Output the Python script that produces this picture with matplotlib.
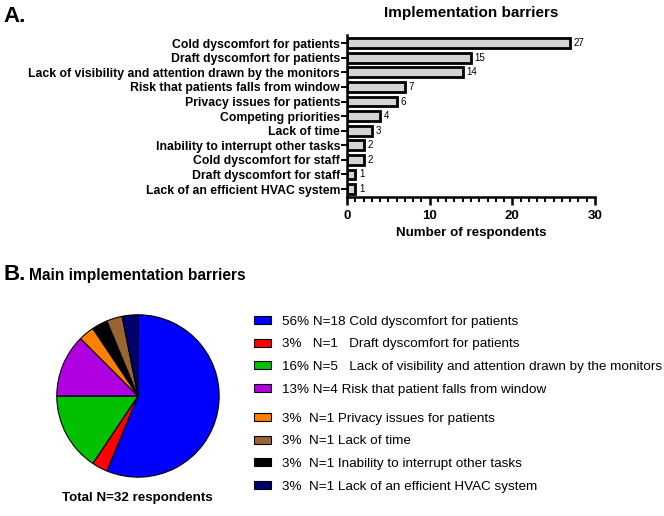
import numpy as np
import matplotlib
matplotlib.use('Agg')
import matplotlib.pyplot as plt

plt.rcParams['font.family'] = ['Liberation Sans', 'DejaVu Sans']

# data for the bar chart (A)
barriers = ['Cold dyscomfort for patients', 'Draft dyscomfort for patients',
            'Lack of visibility and attention drawn by the monitors',
            'Risk that patients falls from window', 'Privacy issues for patients',
            'Competing priorities', 'Lack of time', 'Inability to interrupt other tasks',
            'Cold dyscomfort for staff', 'Draft dyscomfort for staff',
            'Lack of an efficient HVAC system']
counts = [27, 15, 14, 7, 6, 4, 3, 2, 2, 1, 1]

# data for the pie chart (B), in legend order
main_labels = ['56% N=18 Cold dyscomfort for patients',
               '3%   N=1   Draft dyscomfort for patients',
               '16% N=5   Lack of visibility and attention drawn by the monitors',
               '13% N=4 Risk that patient falls from window',
               '3%  N=1 Privacy issues for patients',
               '3%  N=1 Lack of time',
               '3%  N=1 Inability to interrupt other tasks',
               '3%  N=1 Lack of an efficient HVAC system']
main_counts = [18, 1, 5, 4, 1, 1, 1, 1]
main_colors = ['#0000FF', '#FF0000', '#00C000', '#B000E0',
               '#FF8000', '#996633', '#000000', '#000070']
# order of slices going round the pie
pie_order = [0, 1, 2, 3, 4, 6, 5, 7]

fig = plt.figure(figsize=(6.64, 5.16), dpi=100)

# ---- A. bar chart
ax = fig.add_axes([0.5226, 0.618, 0.3735, 0.314])
y = np.arange(len(counts))
ax.barh(y, counts, height=0.68, color='#D4D4D4', edgecolor='black', linewidth=2)
for yi, c in zip(y, counts):
    ax.text(c + 0.45, yi, str(c), va='center', ha='left', fontsize=7)
ax.set_yticks(y)
ax.set_yticklabels(barriers, fontweight='bold', fontsize=8.8)
ax.set_ylim(len(counts) - 0.45, -0.55)
ax.set_xlim(0, 30)
ax.set_xticks([0, 10, 20, 30])
ax.set_xticks(np.arange(0, 31, 1), minor=True)
ax.set_xticklabels(['0', '10', '20', '30'], fontweight='bold', fontsize=9.5)
ax.spines['top'].set_visible(False)
ax.spines['right'].set_visible(False)
ax.spines['left'].set_linewidth(1.8)
ax.spines['bottom'].set_linewidth(1.8)
ax.tick_params(axis='x', which='major', length=6, width=1.8, pad=3)
ax.tick_params(axis='x', which='minor', length=3.5, width=1.4)
ax.tick_params(axis='y', length=4, width=1.4, pad=1)
ax.set_xlabel('Number of respondents', fontweight='bold', fontsize=9.6, labelpad=4)
ax.set_title('Implementation barriers', fontweight='bold', fontsize=11, pad=13)

fig.text(0.005, 0.988, 'A.', fontsize=16, fontweight='bold', va='top')

# ---- B. pie chart
pax = fig.add_axes([0.0843, 0.0736, 0.247, 0.318])
wedges, _ = pax.pie([main_counts[i] for i in pie_order],
                    colors=[main_colors[i] for i in pie_order],
                    startangle=90, counterclock=False,
                    wedgeprops={'edgecolor': 'black', 'linewidth': 0.8})
pax.set_xlim(-1.01, 1.01)
pax.set_ylim(-1.01, 1.01)
handles = [None] * len(main_counts)
for w, i in zip(wedges, pie_order):
    handles[i] = w

fig.text(0.005, 0.468, 'B.', fontsize=16, fontweight='bold', va='center')
fig.text(0.044, 0.466, 'Main implementation barriers', fontsize=11.2, fontweight='bold', va='center')
fig.text(0.207, 0.034, 'Total N=32 respondents', fontsize=9.6, fontweight='bold', ha='center', va='center')

leg_kw = dict(frameon=False, fontsize=9.7, handlelength=1.3, handleheight=0.55,
              handletextpad=0.75, labelspacing=0.79, borderpad=0, borderaxespad=0,
              loc='upper left')
leg1 = fig.legend(handles[:4], main_labels[:4], bbox_to_anchor=(0.3825, 0.388), **leg_kw)
leg2 = fig.legend(handles[4:], main_labels[4:], bbox_to_anchor=(0.3825, 0.200), **leg_kw)

fig.savefig('out.png', dpi=100)
